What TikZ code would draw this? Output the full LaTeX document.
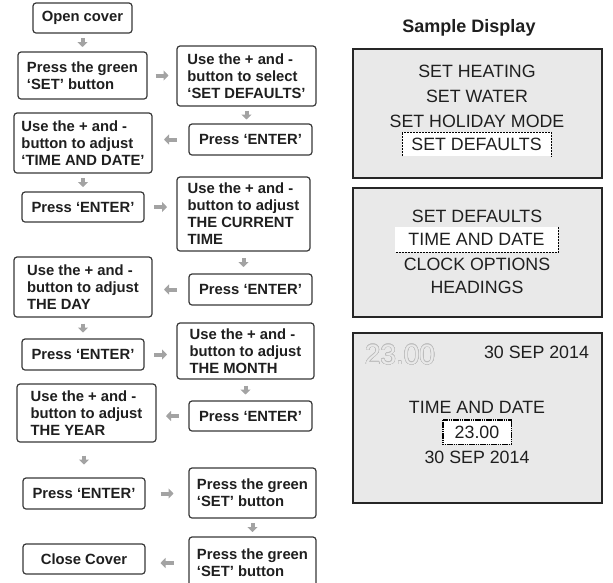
\documentclass[tikz,border=0pt]{standalone}
\usepackage{fontspec}
\setmainfont{Liberation Sans}
\usepackage{contour}
\usetikzlibrary{arrows.meta,calc}

\definecolor{boxline}{HTML}{383838}
\definecolor{arrowgray}{HTML}{A3A3A3}
\definecolor{panelgray}{HTML}{E9E9E9}
\definecolor{panelline}{HTML}{262626}
\definecolor{ghost}{HTML}{BDBDBD}

\contourlength{0.45pt}
\contournumber{24}

\tikzset{
flowbox/.style 2 args={draw=boxline, line width=1.2pt, rounded corners=3pt, fill=white,
  minimum width=#1pt, minimum height=#2pt, inner sep=0pt, align=left,
  font=\bfseries\fontsize{14.8}{17}\selectfont, text=black!88},
flowarrow/.style={draw=arrowgray, line width=4pt, -{Triangle[width=10pt,length=5pt]},
  to path={($(\tikztostart)!.5!(\tikztotarget)!#1pt!(\tikztostart)$)
    -- ($(\tikztostart)!.5!(\tikztotarget)!#1pt!(\tikztotarget)$)}},
flowarrow/.default=4.5,
panel/.style={draw=panelline, line width=2pt, fill=panelgray, inner sep=0pt},
disptext/.style={font=\fontsize{17.8}{20}\selectfont, text=black!88, inner sep=0pt},
focusline/.style={line width=0.6pt, dash pattern=on 2pt off 1pt}
}

\begin{document}
\begin{tikzpicture}[x=1pt,y=-1pt]
\clip (0,0) rectangle (613,582);

% flow chart
\node[flowbox={99}{30}] (open) at (82.5,18) {Open cover};
\node[flowbox={129}{47}] (set1) at (82.5,75.5) {Press the green\\‘SET’ button};
\node[flowbox={139}{60}] (sel) at (246.5,76) {Use the + and -\\button to select\\‘SET DEFAULTS’};
\node[flowbox={123}{31}] (ent1) at (250.5,139.5) {Press ‘ENTER’};
\node[flowbox={138}{60}] (tad) at (83,143) {Use the + and -\\button to adjust\\‘TIME AND DATE’};
\node[flowbox={122}{30}] (ent2) at (83,207) {Press ‘ENTER’};
\node[flowbox={133}{74}] (cur) at (243.5,214) {Use the + and -\\button to adjust\\THE CURRENT\\TIME};
\node[flowbox={123}{31}] (ent3) at (250.5,289.5) {Press ‘ENTER’};
\node[flowbox={138}{60}] (day) at (83,287) {Use the + and -\\button to adjust\\THE DAY};
\node[flowbox={122}{31}] (ent4) at (83,354.5) {Press ‘ENTER’};
\node[flowbox={137}{56}] (mon) at (245.5,351) {Use the + and -\\button to adjust\\THE MONTH};
\node[flowbox={123}{30}] (ent5) at (250.5,416) {Press ‘ENTER’};
\node[flowbox={139}{58}] (year) at (86.5,413) {Use the + and -\\button to adjust\\THE YEAR};
\node[flowbox={122}{31}] (ent6) at (84,493.5) {Press ‘ENTER’};
\node[flowbox={127}{50}] (set2) at (252.5,493) {Press the green\\‘SET’ button};
\node[flowbox={127}{52}] (set3) at (252.5,563) {Press the green\\‘SET’ button};
\node[flowbox={122}{30}] (close) at (84,559) {Close Cover};

\draw[flowarrow] (open.south) to (open.south |- set1.north);
\draw[flowarrow=6.5] (set1.east) to (set1.east -| sel.west);
\draw[flowarrow] (sel.south) to (sel.south |- ent1.north);
\draw[flowarrow=6.5] (ent1.west) to (ent1.west -| tad.east);
\draw[flowarrow] (tad.south) to (tad.south |- ent2.north);
\draw[flowarrow=6.5] (ent2.east) to (ent2.east -| cur.west);
\draw[flowarrow] (cur.south) to (cur.south |- ent3.north);
\draw[flowarrow=6.5] (ent3.west) to (ent3.west -| day.east);
\draw[flowarrow] (day.south) to (day.south |- ent4.north);
\draw[flowarrow=6.5] (ent4.east) to (ent4.east -| mon.west);
\draw[flowarrow] (mon.south) to (mon.south |- ent5.north);
\draw[flowarrow=6.5] (ent5.west) to (ent5.west -| year.east);
\draw[flowarrow] (ent6.north |- year.south) to (ent6.north);
\draw[flowarrow=6.5] (ent6.east) to (ent6.east -| set2.west);
\draw[flowarrow] (set2.south) to (set2.south |- set3.north);
\draw[flowarrow=6.5] (set3.west) to (set3.west -| close.east);

% sample display
\node[font=\bfseries\fontsize{18}{20}\selectfont, text=black!88] (title) at (469,28) {Sample Display};

\node[panel, minimum width=249pt, minimum height=129pt] (disp1) at (477.5,113.5) {};
\node[disptext] (menu1) at (477,71) {SET HEATING};
\node[disptext] (menu2) at (477,96) {SET WATER};
\node[disptext] (menu3) at (477,121) {SET HOLIDAY MODE};
\node[disptext, fill=white, minimum width=149pt, minimum height=24pt] (menu4) at (476.5,144) {SET DEFAULTS};
\draw[focusline] (menu4.south west) -- (menu4.north west) -- (menu4.north east) -- (menu4.south east);

\node[panel, minimum width=249pt, minimum height=129pt] (disp2) at (477.5,252.5) {};
\node[disptext] (sub1) at (477,216) {SET DEFAULTS};
\node[disptext, fill=white, minimum width=163pt, minimum height=25pt] (sub2) at (476.5,239.5) {TIME AND DATE};
\node[disptext] (sub3) at (477,264) {CLOCK OPTIONS};
\node[disptext] (sub4) at (477,287) {HEADINGS};
\draw[focusline] (sub2.north east) -- (sub2.south east) -- (sub2.south west);

\node[panel, minimum width=249pt, minimum height=170pt] (disp3) at (477.5,418) {};
\node[disptext, font=\fontsize{28}{30}\selectfont] (bigtime) at (400,355)
  {\contour{ghost}{\textcolor{panelgray}{23.00}}};
\node[disptext] (topdate) at (536.5,352) {30 SEP 2014};
\node[disptext] (clock1) at (477,407) {TIME AND DATE};
\node[disptext, fill=white, minimum width=68pt, minimum height=24pt] (clock2) at (477,432) {23.00};
\draw[line width=1.4pt, dash pattern=on 1.6pt off 0.6pt] (clock2.north west) rectangle (clock2.south east);
\node[disptext] (clock3) at (477,457) {30 SEP 2014};
\end{tikzpicture}
\end{document}
